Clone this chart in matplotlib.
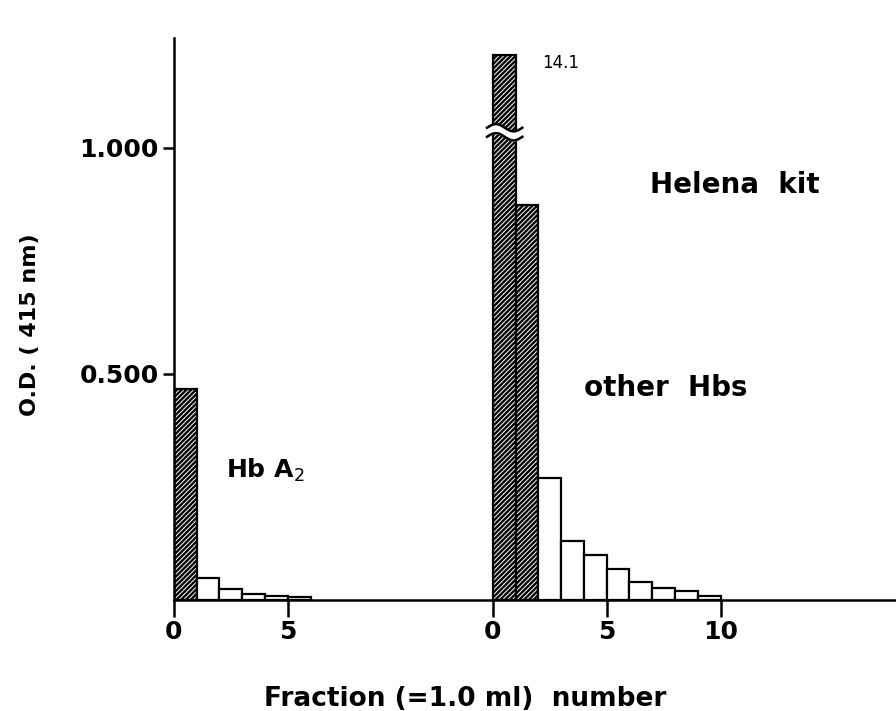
import numpy as np
import matplotlib
matplotlib.use("Agg")
import matplotlib.pyplot as plt

# fraction number and O.D. (415 nm)
hba2_fraction = [0, 1, 2, 3, 4, 5]
hba2_od = [0.467, 0.048, 0.024, 0.014, 0.010, 0.006]
hba2_hatched = [True, False, False, False, False, False]

other_fraction = [0, 1, 2, 3, 4, 5, 6, 7, 8, 9]
other_od = [14.1, 0.874, 0.270, 0.131, 0.100, 0.069, 0.040, 0.027, 0.020, 0.009]
other_hatched = [True, True, False, False, False, False, False, False, False, False]

group_offset = 14      # second column set starts 14 fractions to the right
broken_top = 1.205     # where the off-scale bar is cut

plt.rcParams['font.family'] = ['DejaVu Sans']
plt.rcParams['hatch.linewidth'] = 1.7

fig = plt.figure(figsize=(8.96, 7.11), dpi=100)
ax = fig.add_axes([0.194, 0.156, 0.806, 0.791])


def draw_group(ax, fractions, ods, hatched, offset):
    for f, v, h in zip(fractions, ods, hatched):
        ax.bar(f + offset, min(v, broken_top), width=1.0, align='edge',
               facecolor='white', edgecolor='black', linewidth=1.6,
               hatch='///////' if h else None, zorder=2)


draw_group(ax, hba2_fraction, hba2_od, hba2_hatched, 0)
draw_group(ax, other_fraction, other_od, other_hatched, group_offset)

# break mark on the off-scale bar
xb = np.linspace(group_offset - 0.25, group_offset + 1.3, 60)
wave = 0.008 * np.sin((xb - xb[0]) / (xb[-1] - xb[0]) * 2 * np.pi)
ax.fill_between(xb, 1.024 + wave, 1.044 + wave, color='white', zorder=3)
ax.plot(xb, 1.044 + wave, color='black', lw=1.8, zorder=4)
ax.plot(xb, 1.024 + wave, color='black', lw=1.8, zorder=4)
ax.text(group_offset + 2.15, 1.175, '14.1', fontsize=12)

ax.set_xlim(0, 31.7)
ax.set_ylim(0, 1.243)
for s in ['top', 'right']:
    ax.spines[s].set_visible(False)
for s in ['left', 'bottom']:
    ax.spines[s].set_linewidth(1.8)

ax.set_yticks([0.5, 1.0])
ax.set_yticklabels(['0.500', '1.000'])
xt = [0, 5] + [group_offset + t for t in (0, 5, 10)]
ax.set_xticks(xt)
ax.set_xticklabels(['0', '5', '0', '5', '10'])
ax.tick_params(axis='y', length=8, width=1.8, labelsize=18, pad=3)
ax.tick_params(axis='x', length=12, width=1.8, labelsize=18, pad=2)
for lab in ax.get_xticklabels() + ax.get_yticklabels():
    lab.set_fontweight('bold')

ax.text(2.3, 0.27, 'Hb A$_2$', fontsize=18, fontweight='bold')
ax.text(18.0, 0.45, 'other  Hbs', fontsize=20, fontweight='bold')
ax.text(20.9, 0.90, 'Helena  kit', fontsize=20, fontweight='bold')

ax.set_xlabel('Fraction (=1.0 ml)  number', fontsize=19, fontweight='bold')
ax.xaxis.set_label_coords(0.403, -0.153)
ax.set_ylabel('O.D. ( 415 nm)', fontsize=16, fontweight='bold')
ax.yaxis.set_label_coords(-0.185, 0.49)

fig.savefig('out.png', dpi=100)
